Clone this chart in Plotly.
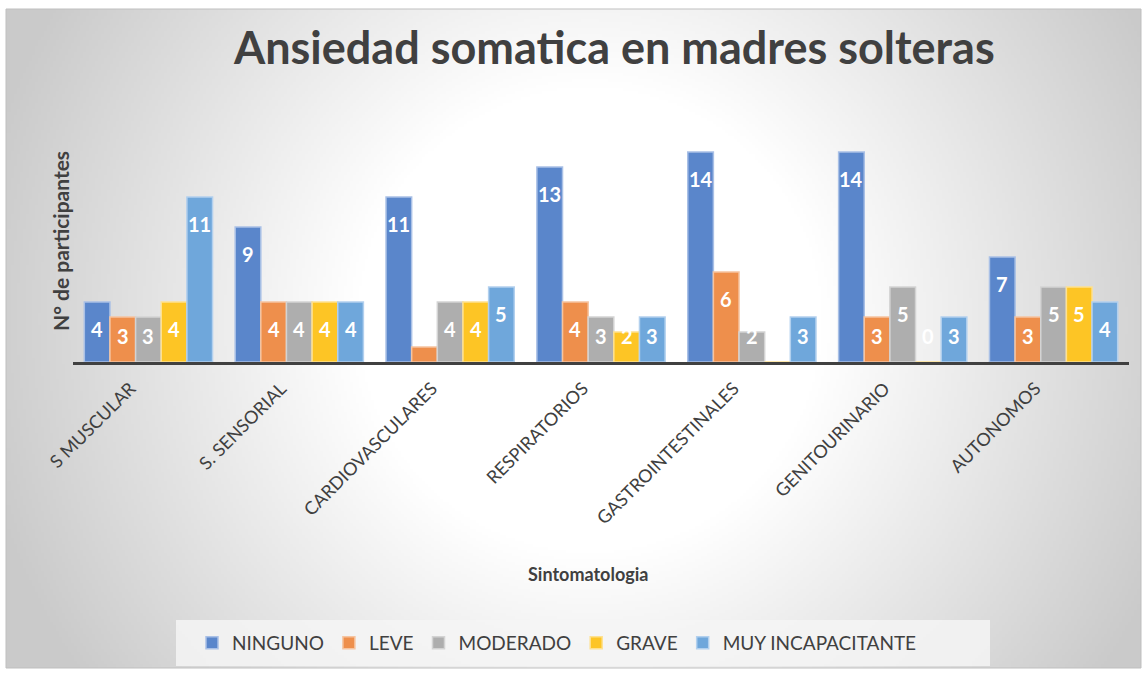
import base64, struct, zlib
import numpy as np
import plotly.graph_objects as go

categories = ["S MUSCULAR", "S. SENSORIAL", "CARDIOVASCULARES", "RESPIRATORIOS",
              "GASTROINTESTINALES", "GENITOURINARIO", "AUTONOMOS"]
series_names = ["NINGUNO", "LEVE", "MODERADO", "GRAVE", "MUY INCAPACITANTE"]
ninguno = [4, 9, 11, 13, 14, 14, 7]
leve = [3, 4, 1, 4, 6, 3, 3]
moderado = [3, 4, 4, 3, 2, 5, 5]
grave = [4, 4, 4, 2, 0, 0, 5]
muy_incapacitante = [11, 4, 5, 3, 3, 3, 4]
series_values = [ninguno, leve, moderado, grave, muy_incapacitante]
hidden_labels = {("CARDIOVASCULARES", "LEVE"), ("GASTROINTESTINALES", "GRAVE")}

colors = ["#5A86CB", "#EE8F4C", "#AEAEAE", "#FDC525", "#6FA7DB"]
border_colors = ["#A9C0E6", "#F6C4A0", "#D3D3D3", "#FEE190", "#B2D0EE"]

W, H = 1147, 676
L, R, T, B = 73, 18, 122, 314
PW, PH = W - L - R, H - T - B
YMAX = 16
FONT = "Lato, sans-serif"


def px_x(px):
    return (px - L) / PW


def px_y(py):
    return (H - B - py) / PH


# radial gradient background as PNG
def make_png(w, h, cx, cy):
    ys, xs = np.mgrid[0:h, 0:w]
    sx = (xs + 0.5) * (1135 / w)
    sy = (ys + 0.5) * (659 / h)
    d = np.sqrt((sx - cx) ** 2 + (sy - cy) ** 2)
    c = 255 - 0.135 * np.clip(d - 234, 0, None)
    c = np.clip(c, 202, 255).astype(np.uint8)
    raw = b"".join(b"\x00" + bytes(np.repeat(row, 3)) for row in c)
    def chunk(tag, data):
        return struct.pack(">I", len(data)) + tag + data + struct.pack(">I", zlib.crc32(tag + data) & 0xffffffff)
    png = b"\x89PNG\r\n\x1a\n" + chunk(b"IHDR", struct.pack(">IIBBBBB", w, h, 8, 2, 0, 0, 0))
    png += chunk(b"IDAT", zlib.compress(raw, 9)) + chunk(b"IEND", b"")
    return "data:image/png;base64," + base64.b64encode(png).decode()


bg = make_png(378, 220, 590 - 6, 320 - 9)

fig = go.Figure()
for name, vals, col, bcol in zip(series_names, series_values, colors, border_colors):
    fig.add_trace(go.Bar(
        name=name, x=categories, y=vals,
        marker=dict(color=col, line=dict(color=bcol, width=1.5)),
        hoverinfo="x+y+name",
    ))

# data labels
bargap = 0.15
group_w = PW / len(categories) * (1 - bargap)
bar_w = group_w / len(series_names)
annotations = []
for i, (name, vals) in enumerate(zip(series_names, series_values)):
    shift = (i - (len(series_names) - 1) / 2) * bar_w
    for cat, v in zip(categories, vals):
        if (cat, name) in hidden_labels:
            continue
        annotations.append(dict(
            x=cat, y=max(v - 1.8, 1.75), xref="x", yref="y", text=f"<b>{v}</b>",
            showarrow=False, xshift=shift, yanchor="middle", xanchor="center",
            font=dict(family=FONT, size=20, color="white"),
        ))

annotations += [
    dict(x=px_x(614), y=px_y(47), xref="paper", yref="paper", showarrow=False,
         text="<b>Ansiedad somatica en madres solteras</b>", xanchor="center", yanchor="middle",
         font=dict(family=FONT, size=45, color="#404040")),
    dict(x=px_x(60), y=px_y(241), xref="paper", yref="paper", showarrow=False, textangle=-90,
         text="<b>N° de participantes</b>", xanchor="center", yanchor="middle",
         font=dict(family=FONT, size=21, color="#404040")),
    dict(x=px_x(588), y=px_y(574), xref="paper", yref="paper", showarrow=False,
         text="<b>Sintomatologia</b>", xanchor="center", yanchor="middle",
         font=dict(family=FONT, size=18, color="#404040")),
]

shapes = [
    dict(type="rect", xref="paper", yref="paper", x0=px_x(6), x1=px_x(1141), y0=px_y(668), y1=px_y(9),
         line=dict(color="#BFBFBF", width=1), fillcolor="rgba(0,0,0,0)", layer="below"),
    dict(type="rect", xref="paper", yref="paper", x0=px_x(176), x1=px_x(990), y0=px_y(666), y1=px_y(620),
         line=dict(width=0), fillcolor="rgba(245,245,245,0.85)", layer="below"),
]

fig.update_layout(
    width=W, height=H,
    margin=dict(l=L, r=R, t=T, b=B, autoexpand=False),
    paper_bgcolor="white", plot_bgcolor="rgba(0,0,0,0)",
    barmode="group", bargap=bargap, bargroupgap=0,
    images=[dict(source=bg, xref="paper", yref="paper", x=px_x(6), y=px_y(9),
                 sizex=px_x(1141) - px_x(6), sizey=px_y(9) - px_y(668),
                 xanchor="left", yanchor="top", sizing="stretch", layer="below")],
    shapes=shapes, annotations=annotations,
    showlegend=True,
    legend=dict(orientation="h", x=px_x(192), y=px_y(643), xanchor="left", yanchor="middle",
                bgcolor="rgba(0,0,0,0)", font=dict(family=FONT, size=19, color="#404040"),
                itemclick=False, itemwidth=30),
    xaxis=dict(showline=True, linecolor="#404040", linewidth=3, tickangle=-45, ticks="",
               tickfont=dict(family=FONT, size=18, color="#404040"),
               ticklabelshift=-18, ticklabelstandoff=6,
               showgrid=False, zeroline=False, fixedrange=True),
    yaxis=dict(range=[0, YMAX], visible=False, fixedrange=True),
)

fig.write_html("out.html", config={"displayModeBar": False},
               post_script="document.body.style.margin='0px';")
